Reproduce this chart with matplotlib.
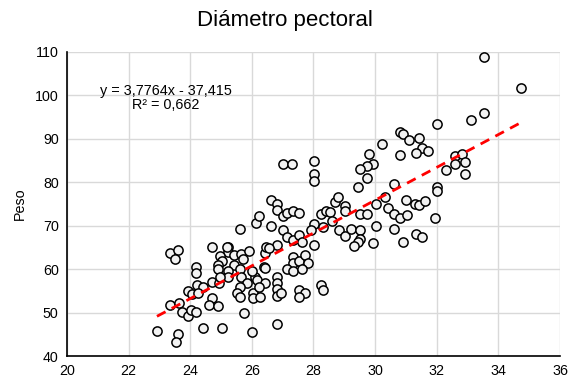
import numpy as np
import matplotlib
matplotlib.use("Agg")
import matplotlib.pyplot as plt

plt.rcParams['font.family'] = ['Liberation Sans', 'DejaVu Sans']

# diámetro pectoral (cm) y peso (kg)
diametro = [
    22.92, 23.35, 23.60, 23.50, 23.33, 23.63, 23.73, 23.60, 23.53, 23.93,
    24.03, 24.20, 23.92, 24.05, 24.22, 24.43, 24.24, 24.20, 24.20, 24.72,
    24.72, 24.92, 24.72, 24.62, 24.91, 24.43, 25.02, 25.21, 25.21, 24.95,
    25.02, 24.89, 25.42, 25.64, 25.92, 25.70, 25.42, 25.62, 25.24, 25.24,
    24.91, 24.95, 25.64, 25.83, 26.10, 26.00, 26.18, 26.43, 25.60, 25.53,
    25.62, 26.03, 26.03, 26.25, 26.23, 25.73, 26.00, 26.43, 26.46, 25.18,
    25.62, 26.12, 26.22, 26.40,
    27.02, 27.31, 28.02, 28.02, 28.02, 26.62, 26.83, 26.83, 27.02, 27.13,
    27.33, 27.53, 26.62, 27.02, 27.13, 27.33, 27.53, 27.62, 26.83, 26.54,
    28.02, 27.91, 28.02, 28.24, 28.41, 28.52, 28.30, 28.59, 28.70, 28.81,
    29.03, 29.03, 28.83, 29.03, 27.33, 27.33, 27.53, 27.73, 27.81, 27.13,
    27.33, 27.62, 26.43, 26.83, 26.83, 26.83, 26.83, 26.94, 27.53, 27.73,
    27.53, 28.24, 28.32, 26.83,
    32.00, 30.81, 30.92, 31.11, 31.41, 31.52, 31.71, 31.33, 30.81, 30.22,
    29.81, 29.92, 29.73, 29.51, 29.73, 29.43, 30.62, 30.32, 30.02, 30.41,
    30.62, 30.81, 31.03, 31.01, 31.30, 31.41, 31.62, 32.00, 32.00, 31.93,
    32.31, 29.51, 29.73, 30.02, 29.22, 29.51, 29.51, 29.43, 29.32, 29.92,
    30.62, 30.92, 31.33, 31.52, 33.52, 34.72, 33.52, 33.12, 32.60, 32.82,
    32.93, 32.60, 32.91,
]
peso = [
    45.8, 63.7, 64.5, 62.3, 51.7, 52.3, 50.2, 45.0, 43.2, 49.3,
    50.5, 50.2, 55.0, 54.2, 56.4, 56.0, 54.6, 60.4, 59.1, 65.1,
    57.0, 56.9, 53.3, 51.8, 51.5, 46.5, 46.4, 65.1, 63.9, 63.1,
    61.8, 60.9, 63.3, 63.4, 64.1, 62.3, 60.9, 60.0, 59.5, 58.3,
    60.0, 58.3, 58.3, 56.8, 58.3, 59.5, 57.6, 56.9, 55.8, 54.6,
    53.7, 54.6, 53.3, 53.7, 55.8, 49.8, 45.6, 63.7, 65.1, 65.2,
    69.2, 70.6, 72.2, 60.5,
    84.2, 84.2, 84.8, 81.8, 80.2, 76.0, 75.0, 73.7, 72.2, 73.0,
    73.5, 73.0, 69.9, 69.1, 67.3, 66.6, 67.9, 66.2, 65.5, 64.9,
    70.3, 69.1, 65.6, 72.8, 73.3, 73.2, 69.6, 71.0, 75.4, 76.5,
    74.6, 73.3, 68.9, 67.7, 62.8, 61.4, 61.9, 63.3, 61.4, 60.1,
    59.5, 60.0, 60.2, 58.1, 56.8, 55.4, 53.9, 54.5, 55.1, 54.6,
    53.7, 56.4, 55.2, 47.3,
    93.4, 91.6, 91.0, 89.7, 90.2, 87.9, 87.3, 86.7, 86.3, 88.9,
    86.6, 84.3, 83.7, 83.1, 81.0, 78.9, 79.7, 76.6, 74.9, 74.0,
    72.6, 71.8, 72.5, 75.9, 74.9, 74.8, 75.6, 78.9, 77.9, 71.8,
    82.9, 72.8, 72.8, 70.0, 69.2, 69.1, 66.9, 66.2, 65.4, 66.0,
    69.2, 66.2, 68.2, 67.3, 108.8, 101.6, 96.0, 94.3, 86.0, 86.6,
    84.6, 84.2, 82.0,
]

# línea de tendencia
pendiente = 3.7764
intercepto = -37.415
r2 = 0.662

x_ticks = [20, 22, 24, 26, 28, 30, 32, 34, 36]
y_ticks = [40, 50, 60, 70, 80, 90, 100, 110]

fig = plt.figure(figsize=(5.7, 3.82), dpi=100)
ax = fig.add_axes([0.1175, 0.068, 0.865, 0.796])

ax.scatter(diametro, peso, s=44, facecolor='#f2f2f2', edgecolor='black',
           linewidth=1.1, zorder=3)

xs = np.array([min(diametro), max(diametro)])
ax.plot(xs, pendiente * xs + intercepto, color='#ff0000', lw=2,
        linestyle=(0, (3.5, 2.5)), zorder=4)

ax.text(23.2, 99.3, "y = 3,7764x - 37,415\nR² = 0,662", ha='center', va='center',
        fontsize=10.4, linespacing=1.0)

ax.set_xlim(20, 36)
ax.set_ylim(40, 110)
ax.set_xticks(x_ticks)
ax.set_yticks(y_ticks)
ax.tick_params(length=0, labelsize=10.3, pad=6)
ax.grid(True, color='#d9d9d9', lw=1)
ax.set_axisbelow(True)
for s in ['top', 'right']:
    ax.spines[s].set_visible(False)
for s in ['left', 'bottom']:
    ax.spines[s].set_color('black')
    ax.spines[s].set_linewidth(1.2)

ax.set_ylabel("Peso", fontsize=10.3, labelpad=6)
fig.suptitle("Diámetro pectoral", fontsize=16, y=0.975)

fig.savefig("out.png", dpi=100)
